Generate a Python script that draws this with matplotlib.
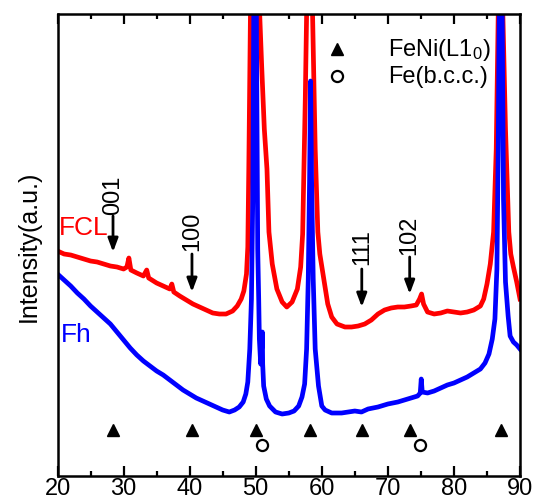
import matplotlib
matplotlib.use("Agg")
import matplotlib.pyplot as plt
import numpy as np

plt.rcParams['font.family'] = ['Liberation Sans', 'DejaVu Sans']
plt.rcParams['mathtext.default'] = 'regular'

# 2-theta (deg) and intensity (a.u.)
fcl_2theta = [20.0, 21.0, 22.0, 23.0, 24.0, 25.0, 26.0, 27.0, 28.0, 29.0,
              30.0, 30.5, 30.8, 31.1, 32.0, 33.0, 33.5, 33.8, 35.0, 36.0,
              37.0, 37.3, 37.6, 38.5, 39.5, 40.5, 41.5, 42.5, 43.5, 44.5,
              45.5, 46.5, 47.2, 47.8, 48.2, 48.6, 48.8, 48.95, 49.2, 49.5,
              49.9, 50.3, 50.6, 50.9, 51.3, 51.7, 52.0, 52.5, 53.2, 54.0,
              54.7, 55.5, 56.3, 56.8, 57.1, 57.5, 57.7, 58.2, 58.6, 59.0,
              59.4, 59.7, 60.3, 60.9, 61.5, 62.3, 63.5, 64.5, 65.5, 66.5,
              67.5, 68.5, 69.5, 70.5, 71.5, 72.5, 73.5, 74.3, 74.8, 75.1,
              75.4, 76.0, 77.0, 78.0, 79.0, 80.0, 81.0, 82.0, 83.0, 84.0,
              84.5, 85.0, 85.5, 86.0, 86.4, 86.7, 87.05, 87.4, 87.8, 88.3,
              88.6, 89.0, 89.5, 90.0]
fcl_int = [225, 222, 221, 219, 217, 215, 214, 212, 210, 209,
           207, 209, 218, 206, 203, 200, 206, 198, 193, 190,
           187, 192, 184, 180, 176, 172, 169, 166, 163, 162,
           162, 165, 170, 177, 185, 202, 229, 307, 462, 577,
           777, 577, 462, 410, 347, 307, 244, 212, 187, 174,
           169, 174, 187, 209, 242, 377, 462, 727, 462, 327,
           244, 222, 197, 172, 159, 152, 149, 149, 150, 152,
           156, 162, 166, 168, 169, 169, 170, 171, 177, 182,
           172, 164, 162, 163, 165, 164, 163, 164, 166, 170,
           177, 192, 212, 244, 327, 462, 777, 462, 347, 244,
           222, 209, 194, 177]

fh_2theta = [20.0, 21.0, 22.0, 23.0, 24.0, 25.0, 26.0, 27.0, 28.0, 29.0,
             30.0, 31.0, 32.0, 33.0, 34.0, 35.0, 36.0, 37.0, 38.0, 39.0,
             40.0, 41.0, 42.0, 43.0, 44.0, 45.0, 46.0, 46.8, 47.5, 48.1,
             48.5, 48.8, 49.1, 49.35, 49.55, 49.7, 49.9, 50.1, 50.3, 50.45,
             50.55, 50.75, 50.95, 51.0, 51.05, 51.2, 51.6, 52.1, 53.0, 54.0,
             55.0, 55.8, 56.5, 57.0, 57.4, 57.7, 57.95, 58.15, 58.3, 58.45,
             58.7, 59.0, 59.5, 60.0, 60.5, 61.5, 63.0, 65.0, 66.0, 67.0,
             68.5, 70.0, 71.5, 73.0, 74.5, 74.9, 75.05, 75.2, 76.0, 77.0,
             78.0, 79.0, 80.0, 81.0, 82.0, 83.0, 84.0, 84.7, 85.3, 85.8,
             86.2, 86.5, 86.7, 86.85, 87.05, 87.3, 87.5, 87.8, 88.2, 88.5,
             89.0, 89.5, 90.0]
fh_int = [202, 196, 190, 183, 177, 170, 164, 158, 152, 144,
          136, 128, 121, 115, 110, 105, 101, 96, 91, 86,
          82, 78, 75, 72, 69, 66, 64, 66, 69, 74,
          82, 94, 127, 177, 277, 462, 777, 462, 227, 177,
          137, 112, 132, 144, 112, 90, 77, 70, 64, 62,
          63, 65, 70, 79, 92, 127, 197, 297, 395, 297,
          197, 127, 90, 70, 66, 63, 63, 65, 64, 67,
          69, 72, 74, 77, 80, 83, 97, 84, 83, 85,
          88, 91, 93, 96, 99, 103, 107, 113, 122, 137,
          157, 207, 327, 462, 777, 462, 277, 194, 160, 140,
          134, 131, 127]

# reference peak positions
feni_l10 = [28.4, 40.35, 50.0, 58.2, 66.05, 73.3, 87.05]
fe_bcc = [51.0, 74.8]

# superlattice reflections marked on the FCL scan
hkl_labels = ['001', '100', '111', '102']
hkl_2theta = [28.4, 40.35, 66.05, 73.3]
arrow_tail = [260, 222, 207, 219]
arrow_head = [224, 184, 169, 182]
label_y = [282, 246, 230, 242]

fig = plt.figure(figsize=(5.36, 5.02), dpi=100)
ax = fig.add_axes([0.1073, 0.0498, 0.8629, 0.9203])

ax.plot(fcl_2theta, fcl_int, color='#ff0000', lw=3.4, solid_joinstyle='round')
ax.plot(fh_2theta, fh_int, color='#0000ff', lw=3.4, solid_joinstyle='round')

ax.plot(feni_l10, [46] * len(feni_l10), '^', color='black', ms=9, ls='none')
ax.plot(fe_bcc, [31] * len(fe_bcc), 'o', mfc='white', mec='black', mew=1.6,
        ms=8, ls='none')

for lab, x, yt, yh, yl in zip(hkl_labels, hkl_2theta, arrow_tail,
                              arrow_head, label_y):
    ax.annotate('', xy=(x, yh), xytext=(x, yt),
                arrowprops=dict(arrowstyle='-|>,head_length=0.8,head_width=0.3',
                                color='black', lw=2, shrinkA=0, shrinkB=0))
    ax.text(x, yl, lab, rotation=90, ha='center', va='center', fontsize=17)

ax.text(23.9, 249, 'FCL', color='#ff0000', fontsize=19, ha='center', va='center')
ax.text(22.9, 142, 'Fh', color='#0000ff', fontsize=19, ha='center', va='center')

# legend drawn by hand
ax.plot([62.3], [427], '^', color='black', ms=9)
ax.plot([62.3], [400], 'o', mfc='white', mec='black', mew=1.6, ms=8)
ax.text(70.0, 427, 'FeNi(L1$_0$)', fontsize=17, va='center')
ax.text(70.0, 400, 'Fe(b.c.c.)', fontsize=17, va='center')

ax.set_xlim(20, 90)
ax.set_ylim(0, 462)
ax.set_xticks(np.arange(20, 91, 10))
ax.set_xticks(np.arange(25, 90, 10), minor=True)
ax.set_yticks([])
ax.tick_params(axis='x', which='both', direction='in', top=True, width=1.6,
               labelsize=17, pad=1)
ax.tick_params(axis='x', which='major', length=7.5)
ax.tick_params(axis='x', which='minor', length=3.8)
for s in ax.spines.values():
    s.set_linewidth(1.8)
ax.set_ylabel('Intensity(a.u.)', fontsize=18, labelpad=12)

fig.savefig('out.png', dpi=100)
